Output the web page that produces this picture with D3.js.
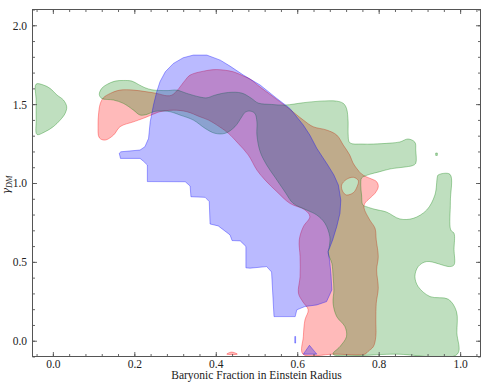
<!DOCTYPE html>
<html><head><meta charset="utf-8">
<script src="https://cdn.jsdelivr.net/npm/d3@7"></script>
<style>body{margin:0;background:#fff} svg{display:block}</style>
</head><body><svg id="c" width="491" height="383"></svg>
<script>
// ---- data (x = baryonic fraction, y = gamma_DM) ----
const xTickLabels = [0.0, 0.2, 0.4, 0.6, 0.8, 1.0];
const yTickLabels = [0.0, 0.5, 1.0, 1.5, 2.0];
const xLabel = "Baryonic Fraction in Einstein Radius";

const greenWest = [[-0.041,1.627],[-0.023,1.621],[-0.007,1.600],[0.010,1.558],[0.026,1.526],[0.034,1.483],[0.030,1.441],[0.018,1.399],[0.001,1.357],[-0.019,1.325],[-0.039,1.308],[-0.041,1.40],[-0.041,1.52]];
const greenMain = [[0.114,1.562],[0.120,1.600],[0.133,1.625],[0.153,1.646],[0.173,1.650],[0.194,1.646],[0.210,1.625],[0.226,1.604],[0.243,1.591],[0.259,1.587],[0.283,1.586],[0.304,1.589],[0.329,1.568],[0.361,1.545],[0.378,1.540],[0.398,1.557],[0.431,1.574],[0.464,1.570],[0.488,1.536],[0.504,1.507],[0.537,1.498],[0.570,1.494],[0.615,1.509],[0.656,1.519],[0.697,1.519],[0.713,1.505],[0.721,1.473],[0.725,1.388],[0.725,1.310],[0.729,1.255],[0.759,1.247],[0.787,1.247],[0.828,1.253],[0.852,1.260],[0.872,1.279],[0.889,1.258],[0.891,1.209],[0.891,1.125],[0.884,1.111],[0.869,1.103],[0.828,1.089],[0.803,1.072],[0.778,1.055],[0.766,1.044],[0.758,1.032],[0.756,0.987],[0.758,0.924],[0.761,0.861],[0.770,0.850],[0.791,0.833],[0.819,0.816],[0.852,0.772],[0.885,0.776],[0.918,0.829],[0.938,0.924],[0.944,1.038],[0.946,1.051],[0.975,1.055],[0.976,0.880],[0.977,0.702],[0.985,0.681],[0.985,0.580],[0.985,0.481],[0.975,0.470],[0.918,0.502],[0.897,0.470],[0.889,0.407],[0.897,0.343],[0.926,0.280],[0.971,0.263],[0.991,0.185],[0.992,0.050],[0.993,-0.085],[0.840,-0.085],[0.688,-0.085],[0.705,-0.037],[0.721,0.027],[0.717,0.090],[0.697,0.153],[0.688,0.238],[0.690,0.322],[0.688,0.407],[0.685,0.491],[0.676,0.555],[0.679,0.601],[0.680,0.660],[0.668,0.745],[0.648,0.797],[0.623,0.829],[0.590,0.871],[0.570,0.943],[0.545,1.038],[0.525,1.114],[0.509,1.198],[0.501,1.304],[0.501,1.388],[0.496,1.441],[0.484,1.456],[0.472,1.448],[0.464,1.420],[0.447,1.357],[0.423,1.315],[0.398,1.315],[0.374,1.346],[0.345,1.399],[0.312,1.431],[0.288,1.452],[0.259,1.456],[0.247,1.452],[0.231,1.435],[0.214,1.431],[0.198,1.462],[0.173,1.505],[0.149,1.526],[0.120,1.536]];
const greenDot = [[0.940,1.190],[0.944,1.190],[0.944,1.175],[0.940,1.175]];

const redMain = [[0.116,1.500],[0.124,1.540],[0.141,1.568],[0.165,1.589],[0.198,1.589],[0.231,1.578],[0.255,1.568],[0.280,1.553],[0.292,1.557],[0.304,1.583],[0.325,1.652],[0.337,1.684],[0.370,1.709],[0.402,1.719],[0.443,1.705],[0.468,1.678],[0.484,1.659],[0.509,1.608],[0.541,1.547],[0.574,1.483],[0.615,1.399],[0.639,1.357],[0.672,1.336],[0.697,1.304],[0.713,1.241],[0.729,1.177],[0.737,1.127],[0.747,1.089],[0.758,1.057],[0.769,1.040],[0.783,1.025],[0.795,1.008],[0.799,0.977],[0.791,0.935],[0.778,0.903],[0.766,0.871],[0.764,0.842],[0.778,0.766],[0.791,0.713],[0.794,0.639],[0.799,0.533],[0.795,0.449],[0.799,0.333],[0.794,0.238],[0.793,0.132],[0.793,0.027],[0.787,-0.037],[0.774,-0.068],[0.766,-0.085],[0.690,-0.085],[0.614,-0.085],[0.615,0.027],[0.619,0.132],[0.627,0.196],[0.614,0.246],[0.603,0.301],[0.607,0.407],[0.607,0.533],[0.605,0.639],[0.615,0.723],[0.631,0.787],[0.619,0.829],[0.582,0.871],[0.550,0.945],[0.521,1.019],[0.501,1.082],[0.480,1.177],[0.455,1.251],[0.431,1.315],[0.410,1.355],[0.382,1.399],[0.361,1.420],[0.329,1.452],[0.296,1.462],[0.263,1.452],[0.251,1.441],[0.222,1.410],[0.198,1.388],[0.165,1.357],[0.149,1.304],[0.128,1.272],[0.114,1.287],[0.111,1.367],[0.112,1.431]];
const redHole = [[0.709,0.987],[0.721,1.023],[0.738,1.036],[0.750,1.015],[0.747,0.977],[0.738,0.939],[0.721,0.924],[0.712,0.945]];
const redSpot = [[0.427,-0.085],[0.433,-0.076],[0.439,-0.072],[0.446,-0.076],[0.453,-0.085]];

const blueMain = [[0.345,1.811],[0.378,1.811],[0.411,1.779],[0.435,1.741],[0.468,1.684],[0.509,1.621],[0.550,1.536],[0.582,1.473],[0.615,1.367],[0.631,1.304],[0.648,1.220],[0.675,1.114],[0.690,1.051],[0.701,0.987],[0.707,0.892],[0.705,0.808],[0.697,0.723],[0.687,0.639],[0.676,0.565],[0.680,0.500],[0.683,0.417],[0.685,0.322],[0.672,0.248],[0.648,0.227],[0.619,0.217],[0.599,0.196],[0.595,0.153],[0.543,0.153],[0.537,0.436],[0.525,0.470],[0.484,0.460],[0.474,0.462],[0.474,0.598],[0.460,0.633],[0.440,0.635],[0.435,0.671],[0.406,0.728],[0.386,0.740],[0.384,0.882],[0.374,0.909],[0.339,0.913],[0.337,0.981],[0.325,1.008],[0.232,1.009],[0.232,1.114],[0.222,1.139],[0.214,1.156],[0.166,1.156],[0.163,1.188],[0.167,1.198],[0.214,1.209],[0.226,1.230],[0.235,1.283],[0.239,1.388],[0.247,1.494],[0.255,1.578],[0.263,1.642],[0.276,1.705],[0.296,1.758],[0.320,1.794]];
const blueTri = [[0.615,-0.085],[0.630,-0.029],[0.648,-0.085]];
const blueTick = [[0.594,0.027],[0.596,0.027],[0.596,-0.015],[0.594,-0.015]];

// ---- drawing ----
const svg = d3.select("#c");
const L = 32.5, R = 480.5, T = 9.5, B = 356.5;
const x = d3.scaleLinear().domain([-0.05, 1.05]).range([L, R]);
const y = d3.scaleLinear().domain([-0.1, 2.1]).range([B, T]);
const FONT = "'Liberation Serif', 'Times New Roman', serif";

svg.append("defs").append("clipPath").attr("id", "clip")
  .append("rect").attr("x", L).attr("y", T).attr("width", R - L).attr("height", B - T);

const smooth = d3.line().x(d => x(d[0])).y(d => y(d[1])).curve(d3.curveCatmullRomClosed.alpha(0.5));
const sharp = d3.line().x(d => x(d[0])).y(d => y(d[1])).curve(d3.curveLinearClosed);

const plot = svg.append("g").attr("clip-path", "url(#clip)");
function region(parts, color, op) {
  plot.append("path")
    .attr("d", parts.map(([p, gen]) => gen(p)).join(""))
    .attr("fill", color).attr("fill-opacity", op).attr("fill-rule", "evenodd")
    .attr("stroke", color).attr("stroke-opacity", op + 0.12).attr("stroke-width", 0.9);
}
region([[redMain, smooth], [redHole, smooth], [redSpot, smooth]], "#ff0000", 0.27);
region([[greenWest, smooth], [greenMain, smooth], [greenDot, sharp]], "#008000", 0.25);
region([[blueMain, sharp], [blueTri, sharp], [blueTick, sharp]], "#0000ff", 0.27);

// ---- axes ----
const xMinor = d3.range(-0.04, 1.05, 0.04);
const yMinor = d3.range(-0.1, 2.11, 0.1);
const AX = "#555";
function styleAxis(g) {
  g.select(".domain").remove();
  g.attr("font-family", FONT).attr("font-size", 11.5);
  g.selectAll("line").attr("stroke", AX).attr("stroke-width", 0.9);
  g.selectAll("text").attr("fill", "#222");
}
function addAxis(fn, scale, vals, size, tr, labels) {
  const a = fn(scale).tickValues(vals).tickSizeInner(-size).tickSizeOuter(0)
    .tickFormat(labels ? d3.format(".1f") : "");
  return svg.append("g").attr("transform", tr).call(a).call(styleAxis);
}
addAxis(d3.axisBottom, x, xMinor, 2.5, `translate(0,${B})`, false);
addAxis(d3.axisTop, x, xMinor, 2.5, `translate(0,${T})`, false);
addAxis(d3.axisTop, x, xTickLabels, 4.5, `translate(0,${T})`, false);
const xb = addAxis(d3.axisBottom, x, xTickLabels, 4.5, `translate(0,${B})`, true);
xb.selectAll("text").attr("dy", null).attr("y", 368 - B);

addAxis(d3.axisLeft, y, yMinor, 2.5, `translate(${L},0)`, false);
addAxis(d3.axisRight, y, yMinor, 2.5, `translate(${R},0)`, false);
addAxis(d3.axisRight, y, yTickLabels, 4.5, `translate(${R},0)`, false);
const yl = addAxis(d3.axisLeft, y, yTickLabels, 4.5, `translate(${L},0)`, true);
yl.selectAll("text").attr("x", 27 - L).attr("dy", "0.34em");

svg.append("rect").attr("x", L).attr("y", T).attr("width", R - L).attr("height", B - T)
  .attr("fill", "none").attr("stroke", AX).attr("stroke-width", 1);

svg.append("text").attr("x", (L + R) / 2).attr("y", 378.5).attr("text-anchor", "middle")
  .attr("font-family", FONT).attr("font-size", 11.5).attr("fill", "#222").text(xLabel);

const yt = svg.append("text").attr("transform", "translate(9.5,185) rotate(-90)")
  .attr("text-anchor", "middle").attr("font-family", FONT).attr("font-size", 11.5).attr("fill", "#222");
yt.append("tspan").attr("font-family", "'DejaVu Serif', serif").attr("font-size", 10.5).attr("font-style", "italic").text("γ");
yt.append("tspan").attr("font-size", 8).attr("dy", 2.5).attr("font-style", "italic").text("DM");
</script></body></html>
